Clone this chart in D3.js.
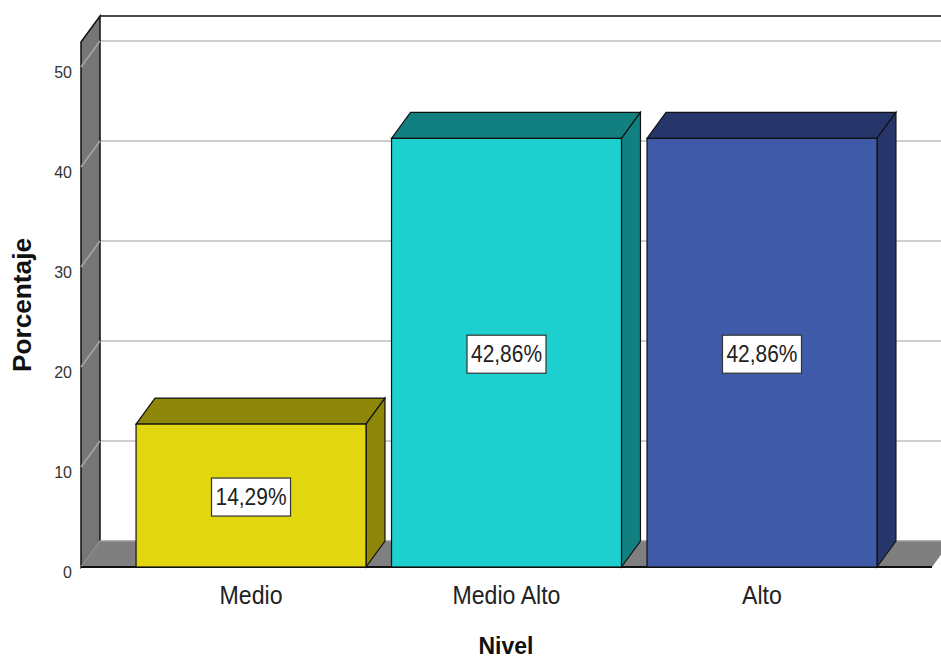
<!DOCTYPE html>
<html>
<head>
<meta charset="utf-8">
<script src="https://cdn.jsdelivr.net/npm/d3@7"></script>
<style>
  body { margin: 0; background: #fff; }
  text { font-family: "Liberation Sans", Arial, sans-serif; }
</style>
</head>
<body>
<div id="chart"></div>
<script>
// data
const categories = ['Medio', 'Medio Alto', 'Alto']
const percents = [14.29, 42.86, 42.86]
const valueLabels = ['14,29%', '42,86%', '42,86%']
const yTicks = [0, 10, 20, 30, 40, 50]

const frontColors = ['#e2d60f', '#1dcfcf', '#3f5aa8']
const darkColors = ['#8f8709', '#128080', '#27366a']

const width = 941,
  height = 659
// 3d depth offset
const dx = 19,
  dy = -26

const svg = d3.select('#chart')
  .append('svg')
  .attr('width', width)
  .attr('height', height)

const yScale = d3.scaleLinear()
  .domain([0, 50])
  .range([567, 67])

const xScale = d3.scaleBand()
  .domain(categories)
  .range([81, 932])
  .paddingInner(0.1)
  .paddingOuter(0.2155)

const x0 = 81,
  x1 = 932,
  yBase = yScale(0),
  yTop = yScale(52.5)

// back wall top border
svg.append('line')
  .attr('x1', x0 + dx).attr('x2', width + 20)
  .attr('y1', yTop + dy).attr('y2', yTop + dy)
  .attr('stroke', '#111').attr('stroke-width', 1.5)

// grid on back wall
svg.selectAll('.grid')
  .data(yTicks.slice(1))
  .enter()
  .append('line')
  .attr('x1', x0 + dx).attr('x2', width + 20)
  .attr('y1', d => yScale(d) + dy)
  .attr('y2', d => yScale(d) + dy)
  .attr('stroke', '#cfcfcf').attr('stroke-width', 2)

// left wall
svg.append('polygon')
  .attr('points', [[x0, yTop], [x0 + dx, yTop + dy], [x0 + dx, yBase + dy], [x0, yBase]].join(' '))
  .attr('fill', '#767676')
  .attr('stroke', '#111').attr('stroke-width', 1.5)

svg.selectAll('.wallTick')
  .data(yTicks)
  .enter()
  .append('line')
  .attr('x1', x0).attr('x2', x0 + dx)
  .attr('y1', d => yScale(d))
  .attr('y2', d => yScale(d) + dy)
  .attr('stroke', '#a8a8a8').attr('stroke-width', 1.5)

// floor
svg.append('polygon')
  .attr('points', [[x0, yBase], [x0 + dx, yBase + dy], [x1 + dx, yBase + dy], [x1, yBase]].join(' '))
  .attr('fill', '#7f7f7f')
svg.append('line')
  .attr('x1', x0 + dx).attr('x2', x1 + dx)
  .attr('y1', yBase + dy).attr('y2', yBase + dy)
  .attr('stroke', '#9a9a9a').attr('stroke-width', 1.5)
svg.append('line')
  .attr('x1', x0).attr('x2', x1)
  .attr('y1', yBase).attr('y2', yBase)
  .attr('stroke', '#111').attr('stroke-width', 2)

// bars
const bw = xScale.bandwidth()
const bars = svg.selectAll('.bar')
  .data(percents)
  .enter()
  .append('g')

bars.append('polygon')
  .attr('points', (d, i) => {
    let l = xScale(categories[i]), t = yScale(d)
    return [[l, t], [l + dx, t + dy], [l + bw + dx, t + dy], [l + bw, t]].join(' ')
  })
  .attr('fill', (d, i) => darkColors[i])
  .attr('stroke', '#111').attr('stroke-width', 1.2)

bars.append('polygon')
  .attr('points', (d, i) => {
    let r = xScale(categories[i]) + bw, t = yScale(d)
    return [[r, t], [r + dx, t + dy], [r + dx, yBase + dy], [r, yBase]].join(' ')
  })
  .attr('fill', (d, i) => darkColors[i])
  .attr('stroke', '#111').attr('stroke-width', 1.2)

bars.append('rect')
  .attr('x', (d, i) => xScale(categories[i]))
  .attr('y', d => yScale(d))
  .attr('width', bw)
  .attr('height', d => yBase - yScale(d))
  .attr('fill', (d, i) => frontColors[i])
  .attr('stroke', '#111').attr('stroke-width', 1.2)

// value labels
bars.each(function (d, i) {
  let g = d3.select(this)
  let cx = xScale(categories[i]) + bw / 2
  let cy = yScale(d / 2) + 1.5
  g.append('rect')
    .attr('x', cx - 39.5).attr('y', cy - 19)
    .attr('width', 79).attr('height', 38)
    .attr('fill', '#fff')
    .attr('stroke', '#333').attr('stroke-width', 1.2)
  g.append('text')
    .attr('x', cx).attr('y', cy + 8)
    .attr('text-anchor', 'middle')
    .attr('font-size', 23)
    .attr('fill', '#222')
    .attr('textLength', 71)
    .attr('lengthAdjust', 'spacingAndGlyphs')
    .text(valueLabels[i])
})

// y tick labels
svg.selectAll('.ytick')
  .data(yTicks)
  .enter()
  .append('text')
  .attr('x', 72)
  .attr('y', d => yScale(d) + 11)
  .attr('text-anchor', 'end')
  .attr('font-size', 16)
  .attr('fill', '#333')
  .text(d => d)

// x tick labels
const condense = 0.925
svg.selectAll('.xtick')
  .data(categories)
  .enter()
  .append('text')
  .attr('x', d => xScale(d) + bw / 2)
  .attr('y', 604)
  .attr('text-anchor', 'middle')
  .attr('font-size', 25)
  .attr('fill', '#222')
  .text(d => d)
  .each(function () {
    d3.select(this)
      .attr('textLength', this.getComputedTextLength() * condense)
      .attr('lengthAdjust', 'spacingAndGlyphs')
  })

// axis titles
svg.append('text')
  .attr('x', 506)
  .attr('y', 654)
  .attr('text-anchor', 'middle')
  .attr('font-size', 24)
  .attr('font-weight', 'bold')
  .attr('fill', '#111')
  .attr('textLength', 55)
  .attr('lengthAdjust', 'spacingAndGlyphs')
  .text('Nivel')

svg.append('text')
  .attr('transform', 'translate(31,305) rotate(-90)')
  .attr('text-anchor', 'middle')
  .attr('font-size', 25)
  .attr('font-weight', 'bold')
  .attr('fill', '#111')
  .attr('textLength', 134)
  .attr('lengthAdjust', 'spacingAndGlyphs')
  .text('Porcentaje')
</script>
</body>
</html>
